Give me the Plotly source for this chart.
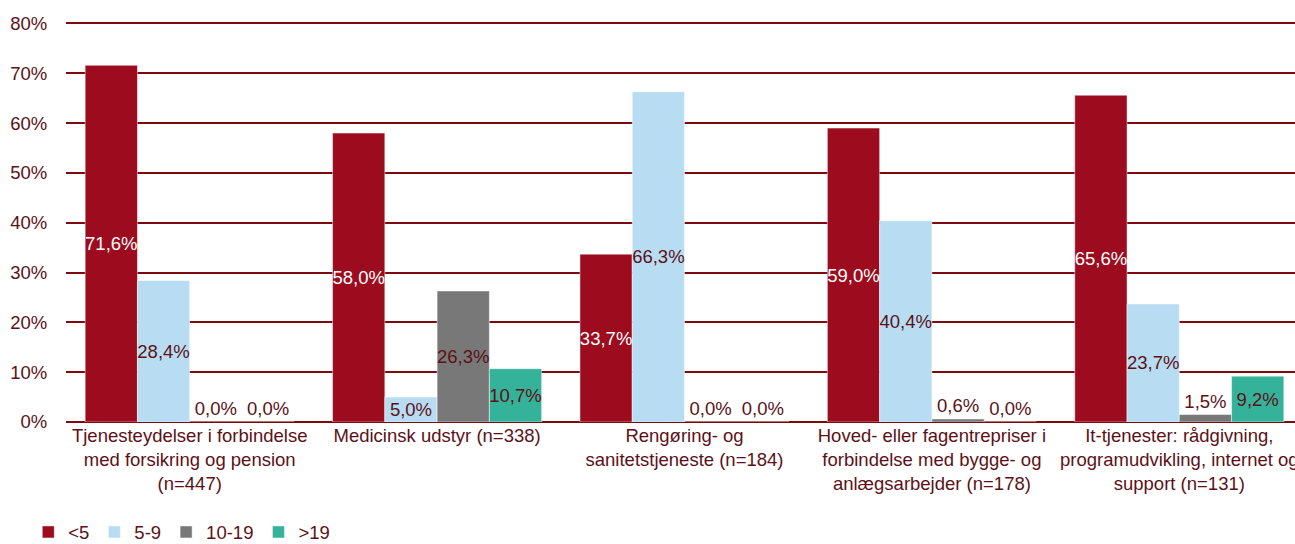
import plotly.graph_objects as go

categories = [
    "Tjenesteydelser i forbindelse<br>med forsikring og pension<br>(n=447)",
    "Medicinsk udstyr (n=338)",
    "Rengøring- og<br>sanitetstjeneste (n=184)",
    "Hoved- eller fagentrepriser i<br>forbindelse med bygge- og<br>anlægsarbejder (n=178)",
    "It-tjenester: rådgivning,<br>programudvikling, internet og<br>support (n=131)",
]
series_names = ["<5", "5-9", "10-19", ">19"]
v_lt5 = [71.6, 58.0, 33.7, 59.0, 65.6]
v_5_9 = [28.4, 5.0, 66.3, 40.4, 23.7]
v_10_19 = [0.0, 26.3, 0.0, 0.6, 1.5]
v_gt19 = [0.0, 10.7, 0.0, 0.0, 9.2]
y_ticks = [0, 10, 20, 30, 40, 50, 60, 70, 80]
y_tick_labels = ["0%", "10%", "20%", "30%", "40%", "50%", "60%", "70%", "80%"]

colors = ["#9c0b1e", "#b8ddf3", "#787878", "#35b29a"]
text_dark = "#5c1117"
inside_text_colors = ["#ffffff", text_dark, text_dark, text_dark]
FONT = "Liberation Sans, Arial"
FS = 18.5

fig = go.Figure()
for name, vals, col, tcol in zip(series_names, [v_lt5, v_5_9, v_10_19, v_gt19], colors, inside_text_colors):
    # zero-height bars are skipped by plotly, so draw them with a negligible height
    plot_vals = [v if v > 0 else 1e-6 for v in vals]
    labels = [f"{v:.1f}%".replace(".", ",") for v in vals]
    positions = ["inside" if v >= 4 else "outside" for v in vals]
    fig.add_trace(go.Bar(
        name=name, x=categories, y=plot_vals,
        text=labels, texttemplate="%{text}",
        textposition=positions,
        textangle=0,
        insidetextanchor="middle",
        insidetextfont=dict(color=tcol, size=FS, family=FONT),
        outsidetextfont=dict(color=text_dark, size=FS, family=FONT),
        constraintext="none",
        cliponaxis=False,
        hoverinfo="skip",
        marker=dict(color=col, line=dict(color="rgba(255,255,255,0.6)", width=0.8)),
    ))

# the original plot area runs a little past the right edge of the window
fig.update_layout(
    width=1303, height=544,
    barmode="group", bargap=0.155, bargroupgap=0,
    paper_bgcolor="white", plot_bgcolor="white",
    margin=dict(l=66, r=0, t=22, b=122, autoexpand=False),
    font=dict(family=FONT, size=FS, color=text_dark),
    showlegend=True,
    legend=dict(orientation="h", x=-0.0305, xanchor="left", y=-0.276, yanchor="middle",
                font=dict(size=FS, color=text_dark, family=FONT), traceorder="normal"),
    yaxis=dict(range=[0, 80.3], tickvals=y_ticks, ticktext=y_tick_labels, showgrid=True,
               gridcolor="#7a0a0e", gridwidth=2, zeroline=True, zerolinecolor="#7a0a0e",
               zerolinewidth=2, ticks="outside", ticklen=14, tickcolor="rgba(0,0,0,0)",
               automargin=False, tickfont=dict(size=FS, color=text_dark, family=FONT)),
    xaxis=dict(tickfont=dict(size=FS, color=text_dark, family=FONT), showline=False,
               ticks="", automargin=False),
)

fig.write_html("out.html", config={"displayModeBar": False},
               post_script="document.body.style.margin='0';document.body.style.overflow='hidden';")
